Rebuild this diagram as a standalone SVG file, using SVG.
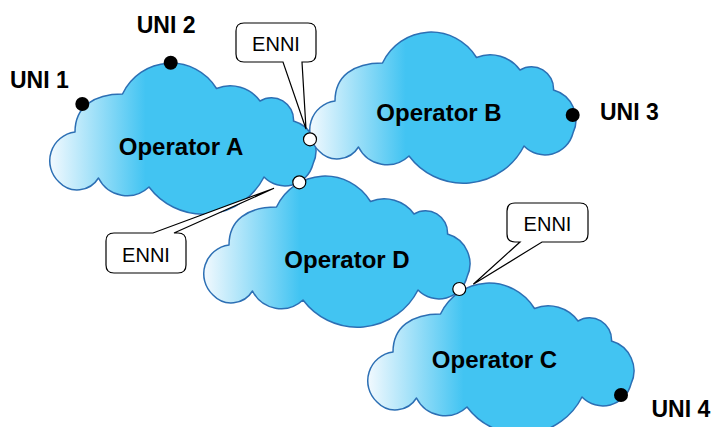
<svg xmlns="http://www.w3.org/2000/svg" xmlns:xlink="http://www.w3.org/1999/xlink" width="714" height="427" viewBox="0 0 714 427">
  <style>
    .cloud { fill: url(#cloudFill); stroke: #2C6FB4; stroke-width: 1.5; stroke-linejoin: round; }
    .op { font-family: "Liberation Sans", Arial, sans-serif; font-weight: bold; font-size: 24px; fill: #000; text-anchor: middle; }
    .uni { font-family: "Liberation Sans", Arial, sans-serif; font-weight: bold; font-size: 23px; fill: #000; }
    .uni-dot { fill: #000; }
    .enni-dot { fill: #fff; stroke: #000; stroke-width: 1.2; }
    .callout { fill: #fff; stroke: #000; stroke-width: 1.2; stroke-linejoin: miter; }
    .callout-text { font-family: "Liberation Sans", Arial, sans-serif; font-size: 20px; fill: #000; text-anchor: middle; }
  </style>
  <defs>
    <linearGradient id="cloudFill" x1="0" y1="0" x2="1" y2="0">
      <stop offset="0" stop-color="#F2F9FE"/>
      <stop offset="0.36" stop-color="#42C4F2"/>
      <stop offset="1" stop-color="#42C4F2"/>
    </linearGradient>
    <path id="cloud" d="M 319,151 A 29 29 0 0 1 335,101 C 335,76.2 353.4,63 382.5,63 A 53.5 53.5 0 0 1 476.5,57.5 A 37 37 0 0 1 520,70 A 22 22 0 0 1 553.5,90 A 31 31 0 0 1 573,133 A 29 29 0 0 1 524,146 A 68 68 0 0 1 409,156 A 32 32 0 0 1 358.5,147 A 25 25 0 0 1 319,151 Z"/>
  </defs>

  <g id="operator-a">
    <use xlink:href="#cloud" href="#cloud" class="cloud" transform="translate(-260,31)"/>
    <text class="op" x="181" y="155">Operator A</text>
  </g>
  <g id="operator-b">
    <use xlink:href="#cloud" href="#cloud" class="cloud"/>
    <text class="op" x="439" y="120.5">Operator B</text>
  </g>
  <g id="operator-d">
    <use xlink:href="#cloud" href="#cloud" class="cloud" transform="translate(-106,144)"/>
    <text class="op" x="347" y="267.5">Operator D</text>
  </g>
  <g id="operator-c">
    <use xlink:href="#cloud" href="#cloud" class="cloud" transform="translate(58,251)"/>
    <text class="op" x="494.5" y="367.5">Operator C</text>
  </g>

  <g id="uni-1">
    <circle class="uni-dot" cx="82.3" cy="104" r="7"/>
    <text class="uni" x="10" y="88">UNI 1</text>
  </g>
  <g id="uni-2">
    <circle class="uni-dot" cx="170.7" cy="62.7" r="7"/>
    <text class="uni" x="136.7" y="33">UNI 2</text>
  </g>
  <g id="uni-3">
    <circle class="uni-dot" cx="572.7" cy="115" r="7"/>
    <text class="uni" x="600" y="120">UNI 3</text>
  </g>
  <g id="uni-4">
    <circle class="uni-dot" cx="621" cy="395" r="7"/>
    <text class="uni" x="651.5" y="417">UNI 4</text>
  </g>

  <g id="connectors">
    <g id="enni-ab">
      <path class="callout" d="M 244,23 H 308 Q 316,23 316,31 V 54 Q 316,62 308,62 H 302 L 306,129 L 283,62 H 244 Q 236,62 236,54 V 31 Q 236,23 244,23 Z"/>
      <text class="callout-text" x="276" y="50.5">ENNI</text>
      <circle class="enni-dot" cx="310" cy="139.3" r="6.5"/>
    </g>
    <g id="enni-ad">
      <path class="callout" d="M 114,233 H 153 L 274,188.3 L 174,233 H 178 Q 186,233 186,241 V 265 Q 186,273 178,273 H 114 Q 106,273 106,265 V 241 Q 106,233 114,233 Z"/>
      <text class="callout-text" x="146" y="261.5">ENNI</text>
      <circle class="enni-dot" cx="299.3" cy="182.3" r="6.5"/>
    </g>
    <g id="enni-dc">
      <path class="callout" d="M 515,203 H 580 Q 588,203 588,211 V 234 Q 588,242 580,242 H 542 L 473.3,284.3 L 520,242 H 515 Q 507,242 507,234 V 211 Q 507,203 515,203 Z"/>
      <text class="callout-text" x="547.5" y="231">ENNI</text>
      <circle class="enni-dot" cx="459.3" cy="289" r="6.5"/>
    </g>
  </g>
</svg>
